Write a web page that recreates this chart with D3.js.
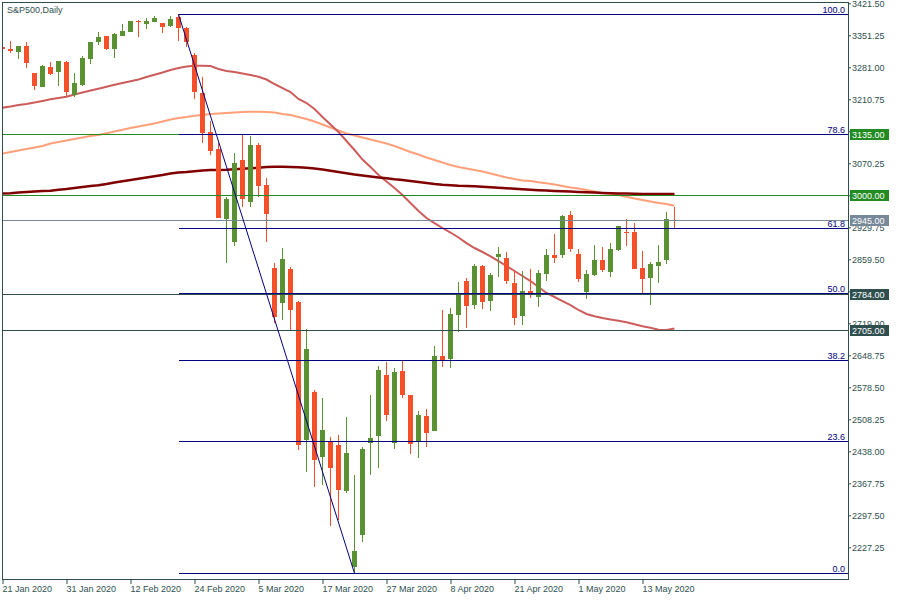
<!DOCTYPE html>
<html><head><meta charset="utf-8">
<script src="https://cdn.jsdelivr.net/npm/d3@7"></script>
<style>body{margin:0;background:#fff}svg{display:block;font-family:"Liberation Sans",Arial,sans-serif}</style>
</head><body><svg id="c" width="900" height="600"></svg>
<script>
const title = "S&P500,Daily";
const dates = ["2020-01-21","2020-01-22","2020-01-23","2020-01-24","2020-01-27","2020-01-28","2020-01-29","2020-01-30","2020-01-31",
"2020-02-03","2020-02-04","2020-02-05","2020-02-06","2020-02-07","2020-02-10","2020-02-11","2020-02-12","2020-02-13","2020-02-14",
"2020-02-17","2020-02-18","2020-02-19","2020-02-20","2020-02-21","2020-02-24","2020-02-25","2020-02-26","2020-02-27","2020-02-28",
"2020-03-02","2020-03-03","2020-03-04","2020-03-05","2020-03-06","2020-03-09","2020-03-10","2020-03-11","2020-03-12","2020-03-13",
"2020-03-16","2020-03-17","2020-03-18","2020-03-19","2020-03-20","2020-03-23","2020-03-24","2020-03-25","2020-03-26","2020-03-27",
"2020-03-30","2020-03-31","2020-04-01","2020-04-02","2020-04-03","2020-04-06","2020-04-07","2020-04-08","2020-04-09",
"2020-04-13","2020-04-14","2020-04-15","2020-04-16","2020-04-17","2020-04-20","2020-04-21","2020-04-22","2020-04-23","2020-04-24",
"2020-04-27","2020-04-28","2020-04-29","2020-04-30","2020-05-01","2020-05-04","2020-05-05","2020-05-06","2020-05-07","2020-05-08",
"2020-05-11","2020-05-12","2020-05-13","2020-05-14","2020-05-15","2020-05-18","2020-05-19"];
const open = [3324.9,3320.5,3315.2,3327.7,3269.1,3238.4,3281.0,3271.3,3292.6,3220.1,
3242.1,3299.8,3336.5,3349.7,3321.8,3349.7,3359.1,3382.6,3376.0,3381.1,
3378.2,3372.3,3392.0,3367.9,3307.9,3225.2,3138.3,3101.6,2947.9,2898.1,
3077.5,2985.9,3110.4,3022.6,2841.0,2764.2,2838.2,2766.4,2462.8,2568.8,
2426.1,2459.0,2451.8,2350.8,2184.6,2254.2,2455.5,2471.5,2605.5,2456.8,
2614.2,2561.6,2459.0,2515.5,2483.2,2647.2,2639.9,2737.2,2811.8,2759.1,
2844.8,2768.6,2863.8,2861.6,2806.8,2735.0,2789.9,2777.4,2827.2,2868.9,
2868.9,2956.7,2871.1,2788.3,2825.0,2857.9,2832.2,2879.9,2920.1,2920.1,
2841.0,2819.1,2845.4,2857.9,2946.5];
const high = [3326.6,3338.7,3327.7,3335.8,3269.1,3286.0,3292.6,3294.8,3295.4,3269.1,
3306.0,3337.2,3358.5,3349.7,3355.6,3376.0,3382.6,3384.8,3389.8,3394.2,
3378.2,3394.2,3397.3,3370.1,3313.0,3259.0,3163.7,3114.1,2996.9,3092.2,
3132.3,3130.1,3114.1,3037.3,2852.0,2884.3,2841.9,2768.6,2705.8,2572.5,
2554.3,2470.0,2473.7,2512.6,2385.9,2448.1,2561.6,2625.2,2633.3,2620.2,
2636.2,2561.6,2527.1,2530.8,2669.8,2748.2,2752.5,2810.3,2817.7,2849.0,
2846.0,2830.0,2887.1,2876.1,2834.4,2834.4,2837.5,2836.0,2882.1,2915.0,
2956.7,2965.5,2881.4,2836.0,2890.9,2885.8,2895.9,2932.6,2947.9,2939.8,
2878.3,2854.2,2890.9,2963.3,2974.9];
const low = [3318.9,3313.0,3299.2,3280.1,3231.1,3238.4,3264.1,3239.9,3216.4,3216.4,
3239.9,3287.5,3329.9,3318.9,3302.0,3349.7,3357.8,3348.1,3364.4,3380.4,
3355.6,3370.1,3339.4,3326.2,3211.4,3115.4,3088.4,2950.1,2852.0,2889.3,
2973.6,2974.9,2996.9,2898.1,2719.0,2726.2,2702.7,2440.8,2393.2,2360.3,
2364.0,2274.6,2287.1,2345.8,2170.1,2239.5,2385.9,2402.0,2505.1,2443.0,
2555.6,2432.0,2423.9,2448.1,2483.2,2623.7,2620.2,2700.5,2709.3,2750.3,
2750.3,2746.6,2821.3,2804.6,2715.2,2715.2,2773.8,2755.4,2812.5,2850.7,
2861.6,2876.1,2810.3,2771.6,2823.5,2832.2,2821.3,2877.7,2889.3,2838.2,
2784.8,2759.1,2808.1,2849.1,2927.5];
const close = [3320.5,3317.4,3327.7,3291.1,3239.9,3283.8,3266.9,3294.8,3227.4,3245.8,
3302.0,3337.2,3348.1,3320.5,3353.4,3360.6,3382.6,3380.4,3381.9,3388.5,
3370.1,3387.0,3367.9,3337.2,3227.4,3136.1,3097.9,2950.8,2991.8,3070.9,
2991.2,3110.4,3021.0,2959.6,2733.4,2860.1,2748.2,2451.8,2662.5,2418.9,
2484.7,2400.6,2353.0,2433.6,2219.1,2443.0,2466.5,2616.4,2517.6,2612.7,
2561.6,2454.0,2517.6,2478.8,2647.2,2636.9,2739.4,2781.1,2756.9,2844.8,
2766.4,2825.0,2871.1,2812.5,2729.9,2789.9,2784.8,2828.7,2868.9,2863.0,
2954.5,2882.1,2816.2,2827.2,2857.9,2836.0,2882.1,2932.6,2917.9,2838.2,
2816.2,2849.1,2853.5,2947.9,2945.0];
const maFast = [3192.3,3194.9,3198.2,3200.4,3203.7,3207.0,3210.7,3213.6,3216.4,3221.2,
3225.6,3230.0,3234.0,3238.1,3242.5,3246.5,3250.2,3254.2,3259.7,3264.5,
3269.5,3275.0,3279.4,3282.7,3284.5,3284.5,3283.8,3277.2,3272.8,3270.6,
3267.3,3264.0,3260.3,3254.2,3244.3,3235.5,3226.7,3211.4,3202.6,3189.4,
3171.9,3155.4,3138.9,3119.2,3099.4,3078.5,3062.1,3044.5,3030.3,3016.0,
3000.6,2983.0,2965.5,2950.1,2939.1,2928.2,2918.3,2907.3,2895.2,2884.3,
2875.5,2866.0,2855.7,2844.8,2833.8,2822.8,2811.8,2798.6,2785.5,2776.7,
2767.9,2759.1,2748.2,2739.4,2734.3,2730.6,2727.5,2724.4,2721.4,2717.0,
2712.4,2709.3,2705.1,2704.3,2707.5];
const maMid = [3091.7,3095.0,3098.3,3101.6,3104.9,3108.2,3113.7,3117.0,3120.3,3123.6,
3126.8,3130.1,3132.3,3136.1,3140.0,3143.7,3147.7,3151.0,3154.3,3157.6,
3162.0,3166.4,3169.7,3171.9,3174.7,3176.2,3178.4,3179.5,3180.6,3181.7,
3182.8,3183.5,3183.5,3182.8,3181.7,3178.4,3176.2,3171.9,3167.5,3162.0,
3155.4,3148.8,3142.2,3135.6,3131.2,3126.8,3122.5,3118.1,3113.7,3108.2,
3101.6,3095.0,3089.5,3082.9,3077.5,3072.0,3066.5,3062.1,3058.8,3055.5,
3052.2,3047.8,3043.4,3039.0,3035.7,3032.4,3031.4,3028.5,3026.3,3023.7,
3020.4,3017.1,3014.9,3011.6,3008.3,3005.0,3003.9,3000.6,2996.7,2992.9,
2989.6,2986.4,2983.0,2980.9,2977.1];
const maSlow = [3003.9,3004.6,3006.1,3007.2,3008.3,3009.4,3010.1,3012.0,3013.8,3016.0,
3018.2,3020.4,3022.1,3024.8,3028.1,3030.9,3033.5,3036.2,3039.0,3041.9,
3044.5,3047.8,3050.0,3051.1,3052.6,3054.4,3055.5,3055.5,3056.2,3057.3,
3058.1,3059.2,3060.3,3062.1,3062.7,3062.7,3062.1,3061.4,3060.3,3058.8,
3056.6,3054.0,3051.1,3048.2,3045.6,3043.4,3041.2,3039.0,3037.3,3035.1,
3033.5,3031.3,3029.1,3026.9,3024.8,3023.2,3022.1,3021.0,3020.4,3019.7,
3018.8,3017.7,3016.6,3015.5,3014.4,3013.4,3012.3,3011.2,3010.3,3009.4,
3008.7,3008.1,3007.2,3006.5,3005.9,3005.2,3004.6,3004.1,3003.7,3003.2,
3002.8,3002.8,3002.8,3002.8,3002.8];
const yTicks = [3421.50,3351.25,3281.00,3210.75,3140.50,3070.25,3000.00,2929.75,2859.50,2789.25,2719.00,2648.75,2578.50,2508.25,2438.00,2367.75,2297.50,2227.25];
const xTickBars = [0,8,16,24,32,40,48,56,64,72,80];
const fibLevels = [0.0,23.6,38.2,50.0,61.8,78.6,100.0];
const fibHigh = 3397.3, fibLow = 2170.1, fibStartBar = 22, fibEndBar = 44;
const levelPrices = [3135.00,3000.00,2945.00,2784.00,2705.00];

// ---- drawing ----
const levelColors = ["#228b22","#228b22","#778899","#2f4f4f","#2f4f4f"];
const fg = "#2f4f4f";
const upCol = "#5a9132", dnCol = "#f5502a";
const PL = 2.5, PR = 848.5, PT = 2.5, PB = 579.5;
const svg = d3.select("#c");
svg.append("rect").attr("width",900).attr("height",600).attr("fill","#fff");
const x = d3.scaleLinear().domain([0, dates.length-1]).range([2.5, 2.5 + 8*(dates.length-1)]);
const y = d3.scaleLinear().domain([2227.25, 3421.5]).range([547.3, 3.3]);

svg.append("defs").append("clipPath").attr("id","plot")
  .append("rect").attr("x",3).attr("y",3).attr("width",845).attr("height",576);
const plot = svg.append("g").attr("clip-path","url(#plot)");

// moving averages
const line = d3.line().x((d,i)=>x(i)).y(d=>y(d));
[[maMid,"#ffa07a",2],[maFast,"#cd5c5c",2],[maSlow,"#800000",2.5]].forEach(([arr,c,w])=>{
  plot.append("path").datum(arr).attr("d",line).attr("fill","none").attr("stroke",c).attr("stroke-width",w);
});

// candles
const idx = d3.range(dates.length);
const cg = plot.append("g").attr("shape-rendering","crispEdges");
cg.selectAll("line.w").data(idx).join("line")
  .attr("x1",i=>x(i)).attr("x2",i=>x(i))
  .attr("y1",i=>y(high[i])).attr("y2",i=>y(low[i]))
  .attr("stroke",i=>close[i]>=open[i]?upCol:dnCol).attr("stroke-width",1);
cg.selectAll("rect.b").data(idx).join("rect")
  .attr("x",i=>x(i)-2.5).attr("width",5)
  .attr("y",i=>y(Math.max(open[i],close[i])))
  .attr("height",i=>Math.max(1,Math.abs(y(open[i])-y(close[i]))))
  .attr("fill",i=>close[i]>=open[i]?upCol:dnCol);

// horizontal price levels
const lg = svg.append("g").attr("shape-rendering","crispEdges");
levelPrices.forEach((p,k)=>{
  const yy = Math.round(y(p))+0.5;
  lg.append("line").attr("x1",PL).attr("x2",PR).attr("y1",yy).attr("y2",yy)
    .attr("stroke",levelColors[k]).attr("stroke-width",1);
});

// fibonacci
const fg2 = svg.append("g");
fibLevels.forEach(f=>{
  const p = fibLow + (fibHigh-fibLow)*f/100;
  let yy = Math.round(y(p))+0.5;
  if (levelPrices.some(lp=>Math.round(y(lp))+0.5===yy) && f===50) yy -= 1;
  fg2.append("line").attr("x1",x(fibStartBar)).attr("x2",PR).attr("y1",yy).attr("y2",yy)
    .attr("stroke","#000080").attr("stroke-width",1).attr("shape-rendering","crispEdges");
  fg2.append("text").attr("x",845).attr("y",yy-2).attr("text-anchor","end")
    .attr("font-size",9).attr("fill","#000080").text(f.toFixed(1));
});
fg2.append("line").attr("x1",x(fibStartBar)).attr("y1",y(fibHigh)).attr("x2",x(fibEndBar)).attr("y2",y(fibLow))
  .attr("stroke","#000080").attr("stroke-width",1);

// frame
svg.append("path").attr("d",`M${PL},${PB}V${PT}H${PR}V${PB}H${PL}`).attr("fill","none")
  .attr("stroke",fg).attr("stroke-width",1).attr("shape-rendering","crispEdges");

// y axis (labels fully covered by a level box are not drawn)
const covered = d => levelPrices.some(lp => Math.abs(y(lp)-y(d)) < 3);
const ya = svg.append("g").attr("transform",`translate(${PR-0.5},0)`)
  .call(d3.axisRight(y).tickValues(yTicks).tickSize(3).tickPadding(1)
    .tickFormat(d => covered(d) ? "" : d3.format(".2f")(d)));
ya.select(".domain").remove();
ya.selectAll("line").attr("stroke",fg);
ya.selectAll("text").attr("fill",fg).attr("font-size",9).attr("font-family","Liberation Sans, Arial, sans-serif");

// x axis
const fmt = d3.timeFormat("%-d %b %Y"), parse = d3.timeParse("%Y-%m-%d");
const xa = svg.append("g").attr("transform",`translate(0,${PB-0.5})`)
  .call(d3.axisBottom(x).tickValues(xTickBars).tickSize(5).tickPadding(1.5).tickFormat(i=>fmt(parse(dates[i]))));
xa.select(".domain").remove();
xa.selectAll("line").attr("stroke",fg);
xa.selectAll("text").attr("fill",fg).attr("font-size",9).attr("text-anchor","start").attr("x",-0.5)
  .attr("font-family","Liberation Sans, Arial, sans-serif");

// price labels
levelPrices.forEach((p,k)=>{
  const yy = Math.round(y(p))+0.5;
  svg.append("rect").attr("x",850).attr("y",yy-5.5).attr("width",39).attr("height",11).attr("fill",levelColors[k]);
  svg.append("text").attr("x",852).attr("y",yy+3.5).attr("font-size",9).attr("fill","#fff").text(p.toFixed(2));
});

// title
svg.append("text").attr("x",7).attr("y",13).attr("font-size",9).attr("fill",fg).text(title);
</script></body></html>
